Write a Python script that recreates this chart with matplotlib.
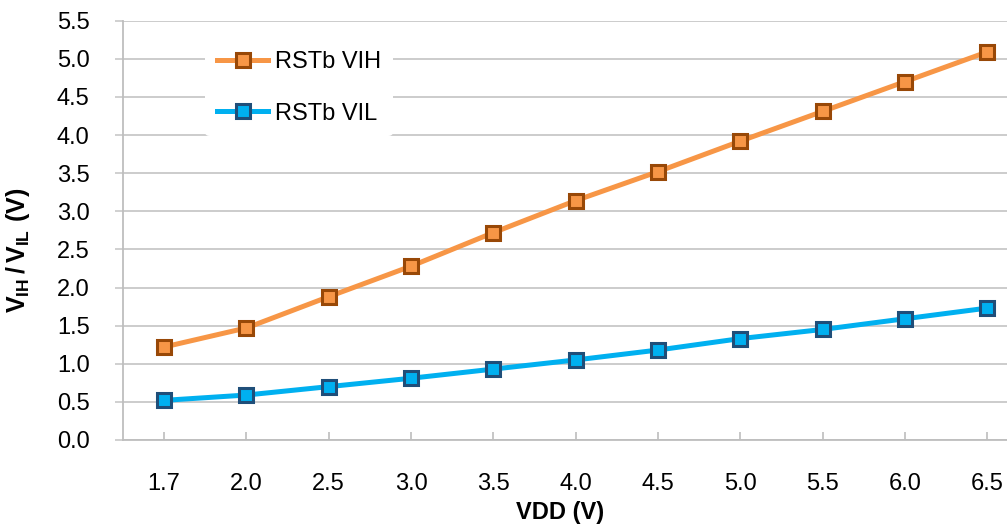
import numpy as np
import matplotlib
matplotlib.use("Agg")
import matplotlib.pyplot as plt

plt.rcParams['font.family'] = ['Liberation Sans', 'DejaVu Sans']
plt.rcParams['mathtext.fontset'] = 'custom'
plt.rcParams['mathtext.rm'] = 'Liberation Sans'
plt.rcParams['mathtext.bf'] = 'Liberation Sans:bold'

# datos
vdd = ["1.7", "2.0", "2.5", "3.0", "3.5", "4.0", "4.5", "5.0", "5.5", "6.0", "6.5"]
vih = [1.22, 1.47, 1.88, 2.28, 2.72, 3.14, 3.52, 3.92, 4.31, 4.70, 5.09]
vil = [0.52, 0.59, 0.70, 0.81, 0.93, 1.05, 1.18, 1.33, 1.45, 1.59, 1.73]

x = np.arange(len(vdd))

fig = plt.figure(figsize=(10.07, 5.27), dpi=100)
ax = fig.add_axes([123/1007, 87/527, 1 - 123/1007, (440-20.7)/527])

ax.plot(x, vih, color="#F79646", lw=3.6, marker="s", ms=10.5,
        mfc="#F79646", mec="#984807", mew=2.2, label="RSTb VIH", zorder=3)
ax.plot(x, vil, color="#00B0F0", lw=3.6, marker="s", ms=10.5,
        mfc="#00B0F0", mec="#1F4E79", mew=2.2, label="RSTb VIL", zorder=3)

ax.set_xlim(-0.5, -0.5 + (1007-123)/82.3)
ax.set_ylim(0, 5.5)
ax.set_xticks(x)
ax.set_xticklabels(vdd)
ax.set_yticks(np.arange(0, 5.51, 0.5))
ax.set_yticklabels(["%.1f" % v for v in np.arange(0, 5.51, 0.5)])

ax.grid(axis="y", color="#C8C8C8", lw=1.3)
ax.set_axisbelow(True)
for s in ["top", "right"]:
    ax.spines[s].set_visible(False)
ax.spines["left"].set_color("#BEBEBE")
ax.spines["bottom"].set_color("#BEBEBE")
ax.spines["left"].set_linewidth(1.3)
ax.spines["bottom"].set_linewidth(1.3)

ax.tick_params(axis="x", direction="in", length=6, color="#BEBEBE", width=1.2,
               pad=24, labelsize=17)
ax.tick_params(axis="y", direction="out", length=6, color="#C8C8C8", width=1.2,
               pad=18, labelsize=17)

ax.set_xlabel("VDD (V)", fontsize=17, fontweight="bold")
ax.xaxis.set_label_coords(0.494, -0.145)
ax.set_ylabel(r"$\mathbf{V_{IH}\,/\,V_{IL}\ (V)}$", fontsize=18)
ax.yaxis.set_label_coords(-0.103, 0.453)

leg = ax.legend(loc="upper left", bbox_to_anchor=(0.093, 0.955), frameon=True,
                fontsize=17, handlelength=2.16, labelspacing=1.24,
                borderpad=0.5, borderaxespad=0, handletextpad=0.3)
leg.get_frame().set_facecolor("white")
leg.get_frame().set_edgecolor("none")
leg.get_frame().set_alpha(1)

plt.savefig("out.png", dpi=100)
